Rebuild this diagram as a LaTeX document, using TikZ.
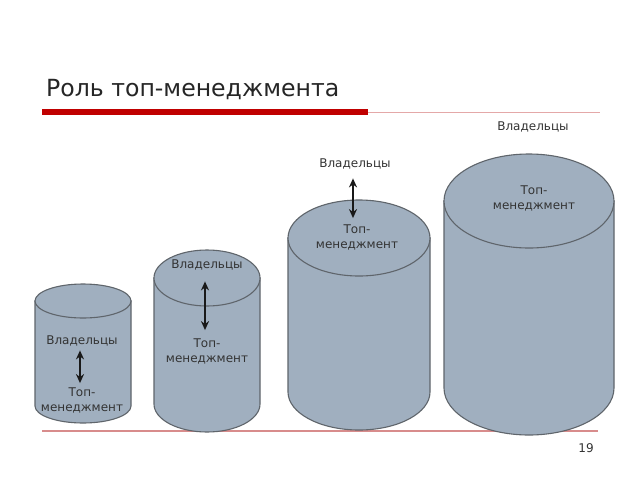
\documentclass[tikz,border=0pt]{standalone}
\usepackage{fontspec}
\setmainfont{DejaVu Sans}
\usetikzlibrary{arrows.meta}
\definecolor{cylfill}{HTML}{A0AFBF}
\definecolor{cyledge}{HTML}{5F656B}
\definecolor{barred}{HTML}{C00000}
\definecolor{thinred}{HTML}{E4A8A8}
\definecolor{baselinered}{HTML}{D88C8C}
\definecolor{txt}{HTML}{333333}
\tikzset{
  cyl/.style={fill=cylfill, draw=cyledge, line width=1.1pt},
  lbl/.style={text=txt, font=\fontsize{12}{15}\selectfont, inner sep=1pt, align=center},
  link/.style={{Stealth[length=9pt,width=8pt]}-{Stealth[length=9pt,width=8pt]}, line width=2pt, black!90},
}
\begin{document}
\begin{tikzpicture}[x=1pt,y=1pt]
\useasboundingbox (0,0) rectangle (640,-480);
\fill[white] (0,0) rectangle (640,-480);
% title
\node[anchor=base west, inner sep=0pt, text=black!85, font=\fontsize{23.6}{28}\selectfont] (title) at (46,-96) {Роль топ-менеджмента};
\fill[barred] (42,-108.5) rectangle (368,-114.5);
\draw[draw=thinred, line width=0.8pt] (368,-112.5) -- (600,-112.5);
\draw[draw=baselinered, line width=1.2pt] (42,-431) -- (598,-431);
\node[text=txt, font=\fontsize{12}{14}\selectfont] (page) at (586,-448) {19};
% cylinder 1
\draw[cyl] (35,-301) -- (35,-406) arc[start angle=180,end angle=360,x radius=48,y radius=17] -- (131,-301) -- cycle;
\draw[cyl] (83,-301) ellipse[x radius=48, y radius=17];
% cylinder 2
\draw[cyl] (154,-278) -- (154,-404) arc[start angle=180,end angle=360,x radius=53,y radius=28] -- (260,-278) -- cycle;
\draw[cyl] (207,-278) ellipse[x radius=53, y radius=28];
% cylinder 3
\draw[cyl] (288,-238) -- (288,-392) arc[start angle=180,end angle=360,x radius=71,y radius=38] -- (430,-238) -- cycle;
\draw[cyl] (359,-238) ellipse[x radius=71, y radius=38];
% cylinder 4
\draw[cyl] (444,-201) -- (444,-388) arc[start angle=180,end angle=360,x radius=85,y radius=47] -- (614,-201) -- cycle;
\draw[cyl] (529,-201) ellipse[x radius=85, y radius=47];
% labels
\node[lbl] (v1) at (82,-341) {Владельцы};
\node[lbl] (t1) at (82,-400) {Топ-\\менеджмент};
\node[lbl] (v2) at (207,-265) {Владельцы};
\node[lbl] (t2) at (207,-351) {Топ-\\менеджмент};
\node[lbl] (v3) at (355,-164) {Владельцы};
\node[lbl] (t3) at (357,-237) {Топ-\\менеджмент};
\node[lbl] (v4) at (533,-127) {Владельцы};
\node[lbl] (t4) at (534,-198) {Топ-\\менеджмент};
% arrows
\draw[link, shorten <=3pt, shorten >=3pt] ([xshift=-2pt]v1.south) -- ([xshift=-2pt]v1.south |- t1.north);
\draw[link, shorten <=10pt, shorten >=7pt] ([xshift=-2pt]v2.south) -- ([xshift=-2pt]v2.south |- t2.north);
\draw[link, shorten <=8pt, shorten >=5pt] ([xshift=-2pt]v3.south) -- ([xshift=-2pt]v3.south |- t3.north);
\end{tikzpicture}
\end{document}
